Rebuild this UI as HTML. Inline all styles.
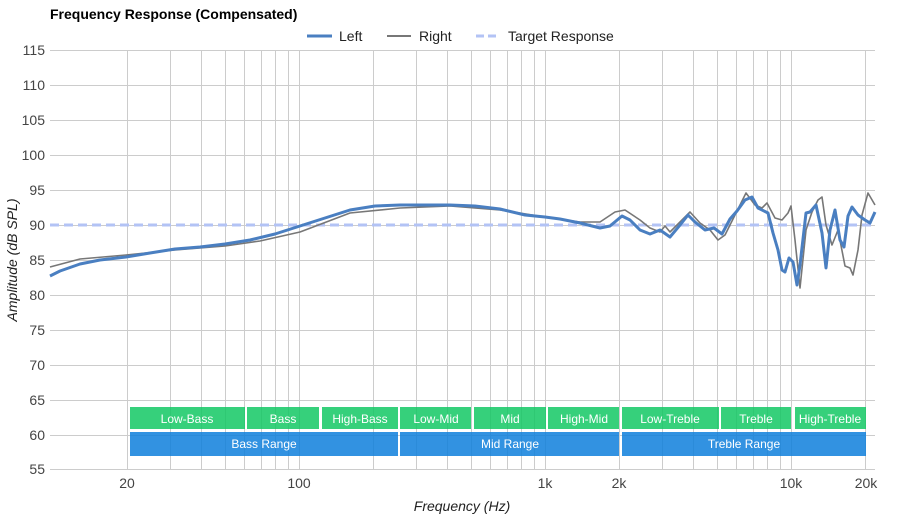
<!DOCTYPE html>
<html><head><meta charset="utf-8"><style>
body{margin:0;background:#fff;}
svg{display:block;font-family:"Liberation Sans",Arial,sans-serif;}
</style></head><body>
<svg width="900" height="520" viewBox="0 0 900 520" xmlns="http://www.w3.org/2000/svg">
<rect width="900" height="520" fill="#fff"/>
<text x="50" y="19" font-size="14" font-weight="bold" fill="#000">Frequency Response (Compensated)</text>
<g font-size="14" fill="#222">
<line x1="307" y1="36" x2="332" y2="36" stroke="#4a7fc1" stroke-width="3"/><text x="339" y="41">Left</text>
<line x1="387" y1="36" x2="411" y2="36" stroke="#777" stroke-width="2"/><text x="419" y="41">Right</text>
<line x1="476" y1="36" x2="500" y2="36" stroke="#b3c3f5" stroke-width="3" stroke-dasharray="8,4"/><text x="508" y="41">Target Response</text>
</g>
<g id="grid" stroke="#ccc" stroke-width="1">
<line x1="50" y1="50.5" x2="875" y2="50.5"/><line x1="50" y1="85.5" x2="875" y2="85.5"/><line x1="50" y1="120.5" x2="875" y2="120.5"/><line x1="50" y1="155.5" x2="875" y2="155.5"/><line x1="50" y1="190.5" x2="875" y2="190.5"/><line x1="50" y1="225.5" x2="875" y2="225.5"/><line x1="50" y1="260.5" x2="875" y2="260.5"/><line x1="50" y1="295.5" x2="875" y2="295.5"/><line x1="50" y1="330.5" x2="875" y2="330.5"/><line x1="50" y1="365.5" x2="875" y2="365.5"/><line x1="50" y1="400.5" x2="875" y2="400.5"/><line x1="50" y1="435.5" x2="875" y2="435.5"/><line x1="50" y1="469.5" x2="875" y2="469.5"/>
</g>
<g stroke="#ccc" stroke-width="1" id="vg"></g>
<g font-size="14" fill="#444" text-anchor="end">
<text x="45" y="55">115</text><text x="45" y="90">110</text><text x="45" y="125">105</text><text x="45" y="160">100</text><text x="45" y="195">95</text><text x="45" y="230">90</text><text x="45" y="265">85</text><text x="45" y="300">80</text><text x="45" y="335">75</text><text x="45" y="370">70</text><text x="45" y="405">65</text><text x="45" y="440">60</text><text x="45" y="474">55</text>
</g>
<g font-size="14" fill="#444" text-anchor="middle">
<text x="127" y="488">20</text><text x="299" y="488">100</text><text x="545" y="488">1k</text><text x="619" y="488">2k</text><text x="791" y="488">10k</text><text x="866" y="488">20k</text>
</g>
<text x="462" y="511" font-size="14" font-style="italic" fill="#222" text-anchor="middle">Frequency (Hz)</text>
<text transform="translate(17,260) rotate(-90)" font-size="14" font-style="italic" fill="#222" text-anchor="middle">Amplitude (dB SPL)</text>
<g opacity="0.85">
<g fill="#14c864">
<rect x="130" y="407" width="115" height="22"/><rect x="247" y="407" width="72" height="22"/><rect x="322" y="407" width="76" height="22"/><rect x="400" y="407" width="71" height="22"/><rect x="474" y="407" width="72" height="22"/><rect x="548" y="407" width="71" height="22"/><rect x="622" y="407" width="97" height="22"/><rect x="721" y="407" width="70" height="22"/><rect x="795" y="407" width="71" height="22"/>
</g>
<g fill="#0f80dc">
<rect x="130" y="432" width="268" height="24"/><rect x="400" y="432" width="219" height="24"/><rect x="622" y="432" width="244" height="24"/>
</g></g>
<g font-size="12" fill="#fff" text-anchor="middle">
<text x="187" y="423">Low-Bass</text><text x="283" y="423">Bass</text><text x="360" y="423">High-Bass</text><text x="436" y="423">Low-Mid</text><text x="510" y="423">Mid</text><text x="584" y="423">High-Mid</text><text x="670" y="423">Low-Treble</text><text x="756" y="423">Treble</text><text x="830" y="423">High-Treble</text>
<text x="264" y="448">Bass Range</text><text x="510" y="448">Mid Range</text><text x="744" y="448">Treble Range</text>
</g>
<line x1="50" y1="225" x2="875" y2="225" stroke="#b3c3f5" stroke-width="3" stroke-dasharray="9,5"/>
<polyline fill="none" stroke="#777" stroke-width="1.6" stroke-linejoin="round" points="50,267 80,259 126,255 175,250 225,246 260,241 300,232 350,213 400,208 450,206 500,210 545,217 580,222 600,222 615,212 625,210 640,220 650,228 660,232 665,226 670,232 680,222 690,212 700,223 710,230 718,240 725,235 735,215 746,193 755,205 762,208 767,203 775,218 782,220 788,213 791,206 795,240 800,288 806,230 812,212 818,200 822,197 826,225 832,245 838,230 845,266 850,268 853,275 858,250 862,215 868,193 875,205"/>
<polyline fill="none" stroke="#4a7fc1" stroke-width="3" stroke-linejoin="round" points="50,276 60,271 80,264 100,260 126,257 150,253 175,249 200,247 225,244 250,240 275,234 300,226 325,218 350,210 375,206 400,205 450,205 475,206 500,209 525,215 545,217 560,219 580,223 600,228 610,226 622,216 630,220 640,230 650,234 660,230 670,237 680,225 688,215 695,222 705,230 714,228 722,234 730,219 737,211 745,200 752,197 758,208 768,213 773,233 778,250 782,270 785,272 789,258 793,262 797,285 800,265 806,213 810,212 816,205 822,233 826,268 830,230 835,210 840,240 844,247 848,216 852,207 858,215 865,220 870,223 875,212"/>
<script>
var g=document.getElementById('vg'),fs=[20,30,40,50,60,70,80,90,100,200,300,400,500,600,700,800,900,1000,2000,3000,4000,5000,6000,7000,8000,9000,10000,20000];
fs.forEach(function(f){var x=Math.round(299+(Math.log10(f)-2)*246)+0.5;var l=document.createElementNS('http://www.w3.org/2000/svg','line');l.setAttribute('x1',x);l.setAttribute('x2',x);l.setAttribute('y1',50);l.setAttribute('y2',470);g.appendChild(l);});
</script>
</svg>
</body></html>
